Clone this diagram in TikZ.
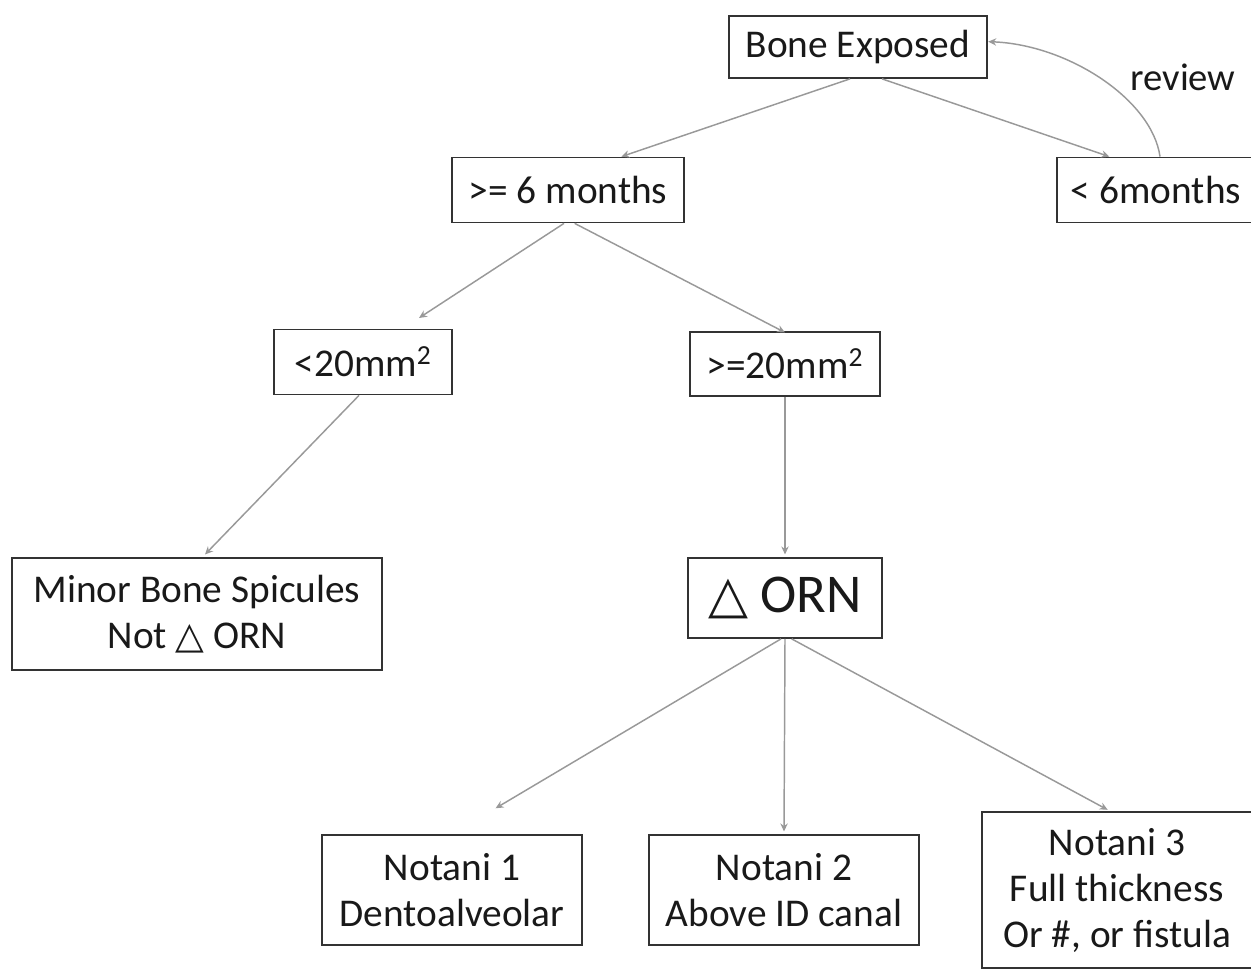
\documentclass[tikz,border=0pt]{standalone}
\usepackage{fontspec}
\setmainfont{Carlito}
\newfontfamily\symfont{DejaVu Sans}
\usetikzlibrary{arrows.meta,calc}
\newcommand{\tri}{{\symfont\fontsize{0.95em}{1em}\selectfont △}}
\begin{document}
\begin{tikzpicture}[x=0.75pt,y=-0.75pt,
  box/.style={draw=black!80, line width=1.3pt, fill=white, align=center, inner sep=0pt,
    font=\fontsize{29.5}{34.5}\selectfont, text=black!90},
  conn/.style={draw=black!40, line width=1.1pt, -{Stealth[length=6pt,width=5.5pt]}},
  lbl/.style={font=\fontsize{29}{32}\selectfont, text=black!90}]
\useasboundingbox (0,0) rectangle (1251,968);
\node[box, minimum width=194pt, minimum height=46.5pt] (be) at (858,47) {Bone Exposed};
\node[box, minimum width=174pt, minimum height=48.75pt] (ge6) at (568,190) {>= 6 months};
\node[box, minimum width=148pt, minimum height=48.75pt] (lt6) at (1156,190) {< 6months};
\node[box, minimum width=133pt, minimum height=48.75pt] (lt20) at (363,362) {<20mm\textsuperscript{2}};
\node[box, minimum width=142pt, minimum height=48pt] (ge20) at (785,364) {>=20mm\textsuperscript{2}};
\node[box, minimum width=278pt, minimum height=84pt] (minor) at (197,614) {Minor Bone Spicules\\Not \tri{} ORN};
\node[box, minimum width=146pt, minimum height=60pt, font=\fontsize{41}{44}\selectfont] (orn) at (785,598) {\tri{} ORN};
\node[box, minimum width=195pt, minimum height=82.5pt] (n1) at (452,890) {Notani 1\\Dentoalveolar};
\node[box, minimum width=203pt, minimum height=82.5pt] (n2) at (784,890) {Notani 2\\Above ID canal};
\node[box, minimum width=202pt, minimum height=117pt] (n3) at (1117,890) {Notani 3\\Full thickness\\Or \#, or fistula};
\node[lbl] (rev) at (1183,77) {review};

\draw[conn] ([xshift=-6pt]be.south) -- ([xshift=40pt]ge6.north);
\draw[conn] ([xshift=18pt]be.south) -- ([xshift=-35pt]lt6.north);
\draw[conn] ([xshift=3pt]lt6.north) .. controls ++(-8,-57) and ++(80,3) .. ([yshift=4pt]be.east);
\draw[conn] ([xshift=-3pt]ge6.south) -- ([xshift=42pt,yshift=8pt]lt20.north);
\draw[conn] ([xshift=5pt]ge6.south) -- ([yshift=-1pt]ge20.north);
\draw[conn] ([xshift=-3pt]lt20.south) -- ([xshift=6pt,yshift=2pt]minor.north);
\draw[conn] (ge20.south) -- ([yshift=2pt]orn.north);
\draw[conn, shorten >=38pt] ([xshift=-3pt]orn.south) -- (n1.north);
\draw[conn] (orn.south) -- ([yshift=2pt]n2.north);
\draw[conn] ([xshift=5pt]orn.south) -- ([xshift=-7pt,yshift=1pt]n3.north);
\end{tikzpicture}
\end{document}
